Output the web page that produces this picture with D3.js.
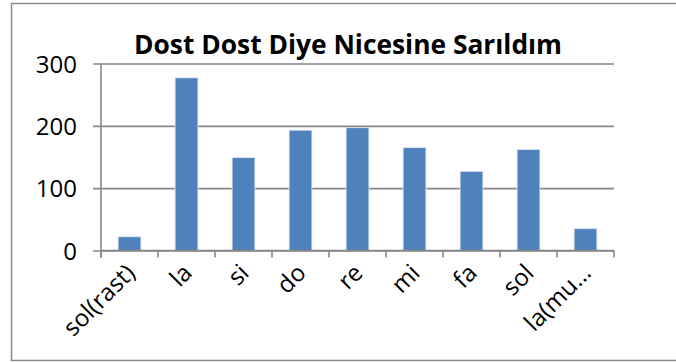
<!DOCTYPE html>
<html>
<head>
<meta charset="utf-8">
<script src="https://cdn.jsdelivr.net/npm/d3@7"></script>
<style>
  html, body { margin: 0; padding: 0; background: #fff; }
  svg { display: block; }
  text { font-family: "Open Sans", "Noto Sans", sans-serif; fill: #000; }
</style>
</head>
<body>
<svg id="chart" width="676" height="362"></svg>
<script>
// Note counts for the song "Dost Dost Diye Nicesine Sarıldım"
const categories = ["sol(rast)", "la", "si", "do", "re", "mi", "fa", "sol", "la(mu…"];
const counts = [22, 277, 149, 193, 197, 165, 127, 162, 35];
const yTicks = [0, 100, 200, 300];
const title = "Dost Dost Diye Nicesine Sarıldım";

const svg = d3.select("#chart");
const plot = { left: 101, right: 614, top: 63.5, bottom: 250.5 };

// Chart frame
svg.append("rect")
  .attr("x", 11.5).attr("y", 3.5)
  .attr("width", 700).attr("height", 357)
  .attr("fill", "#fff")
  .attr("stroke", "#8a8a8a").attr("stroke-width", 1.5);

const x = d3.scaleBand()
  .domain(categories)
  .range([plot.left, plot.right])
  .paddingInner(0.6)
  .paddingOuter(0.3);

const y = d3.scaleLinear()
  .domain([0, 300])
  .range([plot.bottom, plot.top]);

// Horizontal gridlines + y labels
const yAxis = d3.axisLeft(y)
  .tickValues(yTicks)
  .tickSize(-(plot.right - plot.left))
  .tickPadding(24)
  .tickSizeOuter(0);

const gy = svg.append("g")
  .attr("transform", `translate(${plot.left},0)`)
  .call(yAxis);
gy.select(".domain").remove();
gy.selectAll(".tick line")
  .attr("x1", -8)
  .attr("stroke", "#878787").attr("stroke-width", 1.6);
gy.selectAll(".tick text")
  .attr("font-size", 24)
  .attr("dy", "0.36em");

// Vertical axis line
svg.append("line")
  .attr("x1", plot.left).attr("x2", plot.left)
  .attr("y1", plot.top).attr("y2", plot.bottom + 7)
  .attr("stroke", "#878787").attr("stroke-width", 1.6);

// Bars
svg.append("g").selectAll("rect")
  .data(counts)
  .join("rect")
  .attr("x", (d, i) => x(categories[i]))
  .attr("width", x.bandwidth())
  .attr("y", d => y(d))
  .attr("height", d => y(0) - y(d))
  .attr("fill", "#4f81bd")
  .attr("stroke", "#dfe8f3").attr("stroke-width", 0.8);

// Category axis: ticks on band boundaries
const step = x.step();
const boundaries = d3.range(categories.length + 1).map(i => plot.left + i * step);
svg.append("line")
  .attr("x1", plot.left).attr("x2", plot.right)
  .attr("y1", plot.bottom).attr("y2", plot.bottom)
  .attr("stroke", "#878787").attr("stroke-width", 1.6);
svg.append("g").selectAll("line")
  .data(boundaries)
  .join("line")
  .attr("x1", d => d).attr("x2", d => d)
  .attr("y1", plot.bottom).attr("y2", plot.bottom + 7)
  .attr("stroke", "#878787").attr("stroke-width", 1.6);

// Rotated category labels
svg.append("g").selectAll("text")
  .data(categories)
  .join("text")
  .attr("transform", d => `translate(${x(d) + x.bandwidth() / 2 - 5},${plot.bottom + 12}) rotate(-45)`)
  .attr("text-anchor", "end")
  .attr("dy", "0.7em")
  .attr("font-size", 24)
  .text(d => d);

// Title
svg.append("text")
  .attr("x", 348).attr("y", 54)
  .attr("text-anchor", "middle")
  .attr("font-size", 26)
  .attr("font-weight", "bold")
  .attr("textLength", 428)
  .attr("lengthAdjust", "spacingAndGlyphs")
  .text(title);
</script>
</body>
</html>
